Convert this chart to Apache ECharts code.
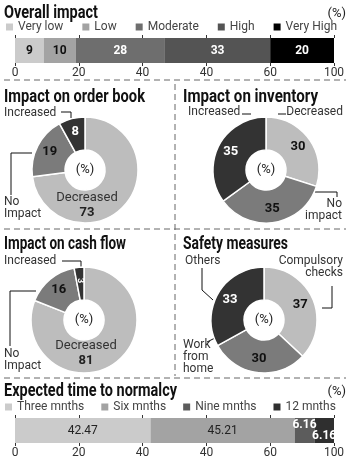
<!DOCTYPE html>
<html><head><meta charset="utf-8">
<script src="https://cdn.jsdelivr.net/npm/echarts@6/dist/echarts.min.js"></script>
<style>html,body{margin:0;padding:0;background:#fff}#c{width:350px;height:461px}</style>
</head><body><div id="c"></div>
<script>
// ---- data ----
const overallCats = ['Very low', 'Low', 'Moderate', 'High', 'Very High'];
const overallVals = [9, 10, 28, 33, 20];
const normalcyCats = ['Three mnths', 'Six mnths', 'Nine mnths', '12 mnths'];
const normalcyVals = [42.47, 45.21, 6.16, 6.16];
const tickLabels = ['0', '20', '40', '40', '60', '100'];
const orderCats = ['Decreased', 'No Impact', 'Increased'];
const orderVals = [73, 19, 8];
const inventoryCats = ['Decreased', 'No impact', 'Increased'];
const inventoryVals = [30, 35, 35];
const cashCats = ['Decreased', 'No Impact', 'Increased'];
const cashVals = [81, 16, 3];
const safetyCats = ['Compulsory checks', 'Work from home', 'Others'];
const safetyVals = [37, 30, 33];

// ---- styles ----
const TF = "Roboto, 'Liberation Sans', sans-serif";
const BF = "Roboto, 'Liberation Sans', sans-serif";
const overallColors = ['#cbcbcb', '#a3a3a3', '#6e6e6e', '#545454', '#000000'];
const overallLabelColors = ['#111', '#111', '#fff', '#fff', '#fff'];
const normalcyColors = ['#cbcbcb', '#a3a3a3', '#5c5c5c', '#2f2f2f'];
const normalcyLabelColors = ['#222', '#222', '#fff', '#fff'];
const normalcyLabelPos = ['inside', 'inside', 'insideTop', 'insideBottom'];
const pieColors = ['#bdbdbd', '#7b7b7b', '#333333'];
const pieLabelColors = ['#111', '#111', '#fff'];

const chart = echarts.init(document.getElementById('c'), null, {renderer: 'canvas'});
const mctx = document.createElement('canvas').getContext('2d');
function fitScale(text, font, w) { mctx.font = font; return w / mctx.measureText(text).width; }

function barSeries(cats, vals, colors, lblColors, idx, positions, weight) {
  return cats.map((c, i) => ({
    type: 'bar', name: c, stack: 's' + idx, xAxisIndex: idx * 2, yAxisIndex: idx,
    barWidth: 25, data: [vals[i]], silent: true,
    itemStyle: {color: colors[i]},
    label: {show: true, position: positions ? positions[i] : 'inside', color: lblColors[i],
      fontFamily: BF, fontSize: 12, fontWeight: weight,
      distance: 1, formatter: p => String(p.value)}
  }));
}

function pieSeries(cats, vals, center, big) {
  return {
    type: 'pie', center: center, radius: [20, 53], startAngle: 90, clockwise: true,
    avoidLabelOverlap: false, silent: true,
    itemStyle: {borderColor: '#fff', borderWidth: 1.5},
    labelLine: {show: false},
    label: {position: 'inside', fontFamily: BF, fontSize: 13, fontWeight: 'bold', formatter: '{c}'},
    labelLayout: big ? function (p) {
      if (p.dataIndex === 0) return {x: big[0], y: big[1], align: 'center', verticalAlign: 'middle'};
    } : null,
    data: cats.map((c, i) => {
      const d = {name: c, value: vals[i], itemStyle: {color: pieColors[i]}, label: {color: pieLabelColors[i]}};
      if (big && i === 0) {
        d.label = {color: '#222', formatter: '{n|{b}}\n{v|{c}}',
          rich: {n: {fontFamily: BF, fontSize: 13, fontWeight: 'normal', color: '#333', lineHeight: 15},
                 v: {fontFamily: BF, fontSize: 13, fontWeight: 'bold', color: '#222', lineHeight: 15}}};
      }
      if (c === 'Increased' && vals[i] < 5) {
        d.label = {color: '#fff', fontSize: 9, rotate: 'radial'};
      }
      return d;
    })
  };
}

const pieCenters = {order: [85, 170], inventory: [266, 170], cash: [84, 320], safety: [264, 320]};

function nameText(s) { return s.split(' ').join('\n'); }
const notes = [
  {t: orderCats[2], x: 4, y: 113, a: 'left', pts: [[61, 112], [71, 112], [71, 118]]},
  {t: nameText(orderCats[1]), x: 4, y: 208, a: 'left', pts: [[32, 153], [11, 153], [11, 195]]},
  {t: inventoryCats[2], x: 188, y: 112, a: 'left', pts: [[242, 114], [251, 114]]},
  {t: inventoryCats[0], x: 343, y: 112, a: 'right', pts: [[278, 114], [286, 114]]},
  {t: nameText(inventoryCats[1]), x: 342, y: 210, a: 'right', pts: [[315, 192], [337, 192], [337, 197]]},
  {t: cashCats[2], x: 4, y: 261, a: 'left', pts: [[62, 261], [81, 261], [81, 267]]},
  {t: nameText(cashCats[1]), x: 4, y: 360, a: 'left', pts: [[36, 291], [10, 291], [10, 346]]},
  {t: safetyCats[2], x: 185, y: 261, a: 'left', pts: [[202, 268], [202, 290], [213, 300]]},
  {t: nameText(safetyCats[0]), x: 343, y: 267, a: 'right', pts: [[332, 286], [332, 308], [322, 308]]},
  {t: nameText(safetyCats[1]), x: 183, y: 357, a: 'left', pts: [[207, 342], [217, 337]]}
];

const graphics = [];
const dash = {stroke: '#666', lineWidth: 1, lineDash: [6, 4]};
[[4, 80, 346, 80], [4, 229, 346, 229], [4, 378, 346, 378], [175, 84, 175, 376]].forEach(l => {
  graphics.push({type: 'line', shape: {x1: l[0], y1: l[1], x2: l[2], y2: l[3]}, style: dash, silent: true});
});
Object.keys(pieCenters).forEach(k => {
  const c = pieCenters[k];
  graphics.push({type: 'text', x: c[0], y: c[1], silent: true,
    style: {text: '(%)', font: '13px ' + BF, fill: '#222', align: 'center', verticalAlign: 'middle'}});
});
notes.forEach(n => {
  graphics.push({type: 'text', x: n.x, y: n.y, silent: true,
    style: {text: n.t, font: '12px ' + BF, fill: '#333', align: n.a, verticalAlign: 'middle', lineHeight: 12}});
  graphics.push({type: 'polyline', shape: {points: n.pts}, silent: true, style: {stroke: '#111', lineWidth: 1, fill: null}});
});
const titleFont = 'bold 18px ' + TF;
[[4, 13, 'Overall impact', 94], [4, 97, 'Impact on order book', 141], [183, 97, 'Impact on inventory', 135],
 [4, 244, 'Impact on cash flow', 122], [183, 244, 'Safety measures', 105], [4, 391, 'Expected time to normalcy', 173]].forEach(t => {
  graphics.push({type: 'text', x: t[0], y: t[1], silent: true, scaleX: fitScale(t[2], titleFont, t[3]),
    style: {text: t[2], font: titleFont, fill: '#111', align: 'left', verticalAlign: 'middle'}});
});
[[346, 14], [346, 392]].forEach(p => {
  graphics.push({type: 'text', x: p[0], y: p[1], silent: true,
    style: {text: '(%)', font: '13px ' + BF, fill: '#222', align: 'right', verticalAlign: 'middle'}});
});

function xAxes(gi) {
  return [
    {type: 'value', gridIndex: gi, min: 0, max: 100, interval: 20, position: 'top',
      axisLine: {show: false}, splitLine: {show: false},
      axisTick: {show: true, length: 3, lineStyle: {color: '#333'}}, axisLabel: {show: false}},
    {type: 'category', gridIndex: gi, data: tickLabels, boundaryGap: false, position: 'bottom',
      axisLine: {show: false}, splitLine: {show: false},
      axisTick: {show: true, length: 3, interval: 0, lineStyle: {color: '#333'}},
      axisLabel: {margin: 4, color: '#333', fontSize: 12, fontFamily: BF, interval: 0}}
  ];
}

const legendText = {color: '#444', fontSize: 12, fontFamily: BF};
const option = {
  animation: false,
  backgroundColor: '#fff',
  grid: [
    {left: 15, right: 16, top: 38, height: 25},
    {left: 15, right: 16, top: 418, height: 25}
  ],
  xAxis: xAxes(0).concat(xAxes(1)),
  yAxis: [
    {type: 'category', gridIndex: 0, data: ['o'], show: false},
    {type: 'category', gridIndex: 1, data: ['n'], show: false}
  ],
  legend: [
    {data: overallCats, left: 6, top: 21, itemWidth: 7, itemHeight: 7, itemGap: 19, icon: 'rect',
      textStyle: legendText, selectedMode: false, padding: 0},
    {data: normalcyCats, left: 5, top: 401, itemWidth: 7, itemHeight: 7, itemGap: 17, icon: 'rect',
      textStyle: legendText, selectedMode: false, padding: 0}
  ],
  series: []
    .concat(barSeries(overallCats, overallVals, overallColors, overallLabelColors, 0, null, 'bold'))
    .concat(barSeries(normalcyCats, normalcyVals, normalcyColors, normalcyLabelColors, 1, normalcyLabelPos, 'normal'))
    .concat([
      pieSeries(orderCats, orderVals, pieCenters.order, [87, 205]),
      pieSeries(inventoryCats, inventoryVals, pieCenters.inventory, null),
      pieSeries(cashCats, cashVals, pieCenters.cash, [86, 353]),
      pieSeries(safetyCats, safetyVals, pieCenters.safety, null)
    ]),
  graphic: graphics
};
// 6.16 labels on the small segments are bold
option.series[7].label.fontWeight = 'bold';
option.series[8].label.fontWeight = 'bold';
chart.setOption(option);
</script></body></html>
